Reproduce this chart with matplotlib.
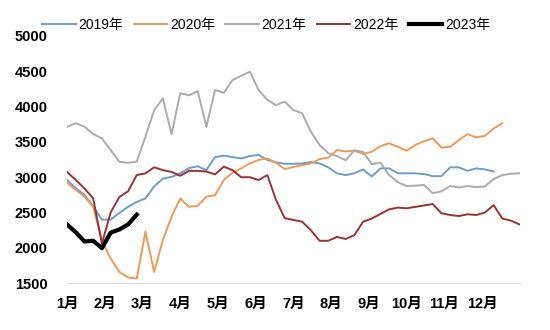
import matplotlib
matplotlib.use("Agg")
import matplotlib.pyplot as plt
import numpy as np

plt.rcParams['font.family'] = ['Liberation Sans', 'Noto Sans CJK SC', 'DejaVu Sans']

# 周度数据（第 0 周 = 1 月初）
months = ['1月', '2月', '3月', '4月', '5月', '6月', '7月', '8月', '9月', '10月', '11月', '12月']

y2019 = [2960, 2845, 2750, 2585, 2400, 2400, 2495, 2580, 2650, 2700,
         2870, 2980, 3005, 3055, 3130, 3155, 3100, 3285, 3305, 3285,
         3265, 3300, 3315, 3245, 3210, 3190, 3190, 3195, 3215, 3195,
         3140, 3055, 3030, 3055, 3110, 3010, 3125, 3125, 3055, 3055,
         3055, 3045, 3015, 3015, 3140, 3140, 3090, 3125, 3110, 3080]

y2020 = [2920, 2820, 2725, 2580, 2100, 1850, 1660, 1580, 1565, 2230,
         1660, 2110, 2440, 2700, 2580, 2595, 2725, 2745, 2960, 3065,
         3125, 3195, 3245, 3265, 3205, 3115, 3145, 3170, 3195, 3255,
         3280, 3385, 3365, 3375, 3330, 3360, 3440, 3480, 3430, 3375,
         3455, 3510, 3550, 3420, 3430, 3525, 3610, 3565, 3585, 3690,
         3765]

y2021 = [3715, 3765, 3715, 3610, 3550, 3385, 3220, 3205, 3220, 3575,
         3950, 4115, 3610, 4190, 4160, 4220, 3715, 4235, 4195, 4375,
         4435, 4495, 4235, 4095, 4020, 4070, 3950, 3905, 3645, 3455,
         3340, 3300, 3240, 3380, 3360, 3185, 3205, 3030, 2930, 2875,
         2880, 2890, 2775, 2800, 2875, 2855, 2875, 2860, 2870, 2975,
         3030, 3050, 3055]

y2022 = [3075, 2960, 2840, 2700, 2060, 2500, 2720, 2800, 3030, 3055,
         3140, 3100, 3075, 3020, 3090, 3090, 3080, 3040, 3150, 3100,
         3000, 3000, 2960, 3030, 2680, 2420, 2395, 2370, 2250, 2100,
         2100, 2155, 2125, 2180, 2370, 2415, 2480, 2545, 2570, 2560,
         2580, 2600, 2620, 2490, 2465, 2450, 2475, 2465, 2500, 2605,
         2415, 2385, 2330]

y2023 = [2330, 2220, 2090, 2100, 1995, 2215, 2260, 2330, 2470]

series = [
    ('2019年', y2019, '#6A9ECF', 1.4),
    ('2020年', y2020, '#EE9A55', 1.4),
    ('2021年', y2021, '#ABABAB', 1.4),
    ('2022年', y2022, '#9A3232', 1.4),
    ('2023年', y2023, '#000000', 3.0),
]

fig = plt.figure(figsize=(5.5, 3.3), dpi=100)
ax = fig.add_axes([0.122, 0.142, 0.823, 0.749])

for name, vals, color, lw in series:
    ax.plot(np.arange(len(vals)), vals, color=color, linewidth=lw, label=name)

ax.set_xlim(0, 52)
ax.set_ylim(1500, 5000)
ax.set_yticks(np.arange(1500, 5001, 500))
ax.set_xticks(np.arange(12) * 52 / 12)
ax.set_xticklabels(months)

for s in ['top', 'right', 'left']:
    ax.spines[s].set_visible(False)
ax.spines['bottom'].set_color('#D9D9D9')
ax.tick_params(axis='both', length=0, labelsize=10.5)
ax.tick_params(axis='x', pad=10)
ax.tick_params(axis='y', pad=14)
for lab in ax.get_xticklabels() + ax.get_yticklabels():
    lab.set_fontweight('bold')

fig.legend(loc='center', bbox_to_anchor=(0.484, 0.924), ncol=5, frameon=False,
           fontsize=10, handlelength=2.4, handletextpad=0.2, columnspacing=0.75)

fig.savefig('out.png', dpi=100)
